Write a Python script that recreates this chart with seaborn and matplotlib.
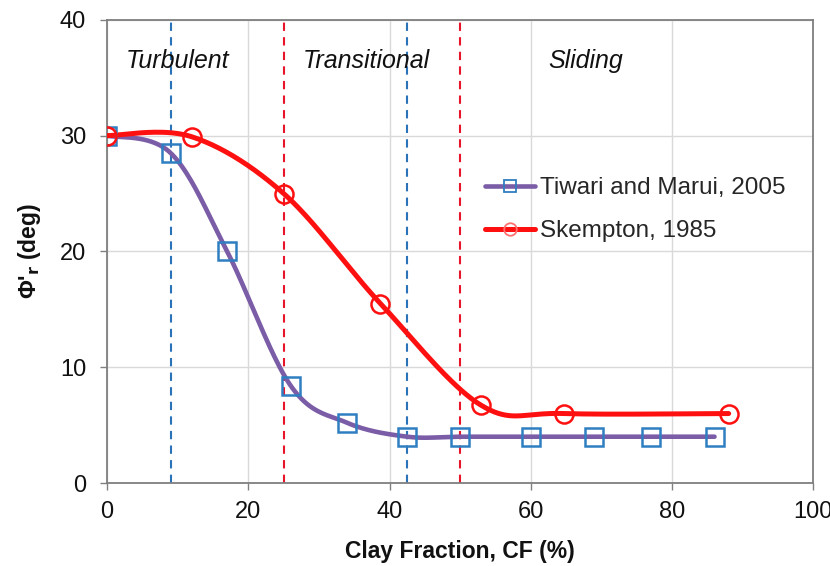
import numpy as np
import pandas as pd
import matplotlib
matplotlib.use("Agg")
import matplotlib.pyplot as plt
from matplotlib.lines import Line2D
import seaborn as sns

# Residual friction angle vs clay fraction
tiwari_cf = [0, 9, 17, 26, 34, 42.5, 50, 60, 69, 77, 86]
tiwari_phi = [30, 28.5, 20, 8.4, 5.2, 4, 4, 4, 4, 4, 4]
skempton_cf = [0, 12, 25, 38.7, 53, 64.7, 88]
skempton_phi = [30, 29.9, 25, 15.5, 6.7, 6.0, 6.0]

# Regime boundaries
blue_bounds = [9, 42.5]
red_bounds = [25, 50]
regime_names = ["Turbulent", "Transitional", "Sliding"]
regime_x = [10, 36.7, 67.7]
regime_y = 36.4

x_ticks = [0, 20, 40, 60, 80, 100]
y_ticks = [0, 10, 20, 30, 40]


def smooth(xs, ys, n=40):
    """Catmull-Rom style smoothing through every point (Bezier form)."""
    p = np.column_stack([xs, ys]).astype(float)
    p = np.vstack([p[0], p, p[-1]])
    out = []
    for i in range(1, len(p) - 2):
        p0, p1, p2, p3 = p[i - 1], p[i], p[i + 1], p[i + 2]
        c1 = p1 + (p2 - p0) / 6.0
        c2 = p2 - (p3 - p1) / 6.0
        t = np.linspace(0, 1, n)[:, None]
        seg = ((1 - t) ** 3) * p1 + 3 * ((1 - t) ** 2) * t * c1 + 3 * (1 - t) * t ** 2 * c2 + t ** 3 * p2
        out.append(seg if i == 1 else seg[1:])
    s = np.vstack(out)
    return s[:, 0], s[:, 1]


sns.set_theme(style="white")
plt.rcParams["font.family"] = ["Liberation Sans", "DejaVu Sans"]

fig = plt.figure(figsize=(8.3, 5.66), dpi=100)
ax = fig.add_axes([0.129, 0.1466, 0.851, 0.8184])

purple = "#7B5CA6"
sq_blue = "#2F7EC1"
red = "#FF1010"
dash_blue = "#2A73B8"
dash_red = "#E8142A"

ax.grid(True, color="#D9D9D9", linewidth=1.0)
ax.set_axisbelow(True)

for xb in blue_bounds:
    ax.axvline(xb, color=dash_blue, linestyle=(0, (4, 3)), linewidth=1.5, zorder=2)
for xb in red_bounds:
    ax.axvline(xb, color=dash_red, linestyle=(0, (4, 3)), linewidth=1.5, zorder=2)

tx, ty = smooth(tiwari_cf, tiwari_phi)
sx, sy = smooth(skempton_cf, skempton_phi)
sns.lineplot(x=tx, y=ty, sort=False, estimator=None, color=purple, linewidth=3.3, ax=ax, zorder=3)
sns.lineplot(x=sx, y=sy, sort=False, estimator=None, color=red, linewidth=3.6, ax=ax, zorder=3)

ax.plot(tiwari_cf, tiwari_phi, linestyle="none", marker="s", markersize=12.5,
        markerfacecolor="none", markeredgecolor=sq_blue, markeredgewidth=1.8, zorder=4)
ax.plot(skempton_cf, skempton_phi, linestyle="none", marker="o", markersize=13,
        markerfacecolor="none", markeredgecolor=red, markeredgewidth=1.8, zorder=5)

for name, xr in zip(regime_names, regime_x):
    ax.text(xr, regime_y, name, ha="center", va="center", fontsize=18,
            fontstyle="italic", color="#111111")

ax.set_xlim(0, 100)
ax.set_ylim(0, 40)
ax.set_xticks(x_ticks)
ax.set_yticks(y_ticks)
ax.tick_params(axis="both", labelsize=17, length=5, width=1, color="#808080",
               direction="out", bottom=True, left=True, labelcolor="#111111")
ax.tick_params(axis="x", pad=8)
ax.tick_params(axis="y", pad=10)
for sp in ax.spines.values():
    sp.set_color("#7F7F7F")
    sp.set_linewidth(1.3)

ax.set_xlabel("Clay Fraction, CF (%)", fontsize=16.5, fontweight="bold", labelpad=12, color="#111111")
ax.set_ylabel(r"Φ'$_{\mathbf{r}}$ (deg)", fontsize=16.5, fontweight="bold", labelpad=12, color="#111111")

handles = [
    Line2D([], [], color=purple, linewidth=3.3, marker="s", markersize=9,
           markerfacecolor="none", markeredgecolor=sq_blue, markeredgewidth=1.3),
    Line2D([], [], color=red, linewidth=3.6, marker="o", markersize=9,
           markerfacecolor="none", markeredgecolor="#FF7070", markeredgewidth=1.3),
]
ax.legend(handles, ["Tiwari and Marui, 2005", "Skempton, 1985"], loc="center left",
          bbox_to_anchor=(0.535, 0.59), frameon=False, fontsize=17.5, handlelength=2.05,
          handletextpad=0.2, labelspacing=0.85, borderpad=0, borderaxespad=0)

fig.savefig("out.png", dpi=100)
